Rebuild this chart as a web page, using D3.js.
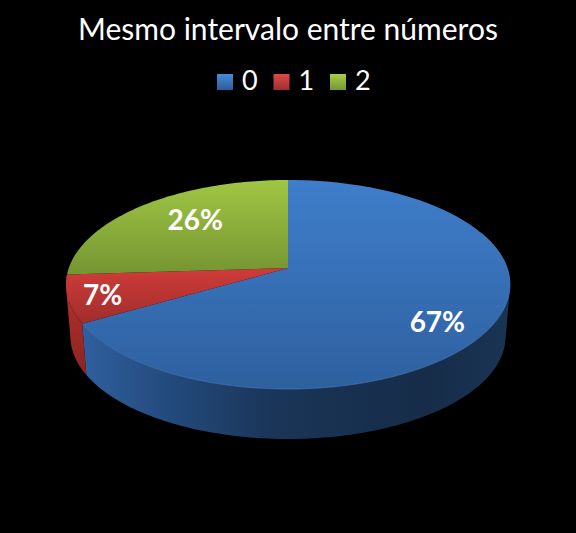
<!DOCTYPE html>
<html><head><meta charset="utf-8">
<script src="https://cdn.jsdelivr.net/npm/d3@7"></script>
<style>html,body{margin:0;padding:0;background:#000;overflow:hidden}svg{display:block}text{font-family:Lato,"Open Sans",sans-serif;fill:#fff}</style>
</head><body><div id="c"></div>
<script>
const title = "Mesmo intervalo entre números";
const categories = ["0", "1", "2"];
const values = [66.6, 7.4, 26.0];
const labels = ["67%", "7%", "26%"];

const W = 576, H = 533;
const svg = d3.select("#c").append("svg").attr("width", W).attr("height", H);
svg.append("rect").attr("width", W).attr("height", H).attr("fill", "#000");
const defs = svg.append("defs");

function grad(id, y1, y2, c1, c2) {
  const g = defs.append("linearGradient").attr("id", id).attr("gradientUnits", "userSpaceOnUse")
    .attr("x1", 0).attr("x2", 0).attr("y1", y1).attr("y2", y2);
  g.append("stop").attr("offset", 0).attr("stop-color", c1);
  g.append("stop").attr("offset", 1).attr("stop-color", c2);
}
grad("f0", 180, 389, "#3f7ecb", "#2e609f");
grad("f1", 272, 326, "#cc3b39", "#9e2c2a");
grad("f2", 180, 272, "#a0c644", "#769632");
[["l0","#4a8ad8","#2c5c9c"],["l1","#dc4a48","#a02e2c"],["l2","#a8cc4c","#76962f"]].forEach(d => {
  const g = defs.append("linearGradient").attr("id", d[0]).attr("x1",0).attr("x2",0).attr("y1",0).attr("y2",1);
  g.append("stop").attr("offset",0).attr("stop-color",d[1]);
  g.append("stop").attr("offset",1).attr("stop-color",d[2]);
});
const sb = defs.append("linearGradient").attr("id","s0").attr("gradientUnits","userSpaceOnUse")
  .attr("x1",84).attr("x2",510).attr("y1",0).attr("y2",0);
[[0,"#2f5f9e"],[0.2,"#234a7c"],[0.45,"#1a3557"],[0.8,"#162c49"],[1,"#1a3454"]].forEach(s =>
  sb.append("stop").attr("offset",s[0]).attr("stop-color",s[1]));
grad("s1", 285, 370, "#b5302e", "#8c2523");

// perspective projection of the pie disc
const k = 0.158;
function project(theta, r, level) {
  const s = level ? 0.98 : 1, cy = level ? 320.4 : 268;
  const u = Math.sin(theta) * r, v = Math.cos(theta) * r, w = 1 + k * v;
  return [288 + 219.2 * s * u / w, cy - 101.9 * s * v / w];
}
const pie = d3.pie().sort(null).value(d => d)(values);
const step = 0.02;
const sweep = (a, b) => d3.range(a, b, step).concat([b]);
const line = d3.line();

// sides (back to front, hidden parts lie under the top face)
[[0, "url(#s0)"], [1, "url(#s1)"]].forEach(([i, fill]) => {
  const ts = sweep(pie[i].startAngle, pie[i].endAngle);
  const quads = d3.pairs(ts).map(([a, b]) => line(d3.polygonHull([
    project(a, 1, 0), project(b, 1, 0), project(b, 1, 1), project(a, 1, 1)
  ])) + "Z").join("");
  svg.append("path").attr("d", quads).attr("fill", fill).attr("fill-rule", "nonzero");
});

// top faces
pie.forEach((p, i) => {
  const pts = [project(0, 0, 0)].concat(sweep(p.startAngle, p.endAngle).map(t => project(t, 1, 0)));
  svg.append("path").attr("d", line(pts) + "Z").attr("fill", `url(#f${i})`);
});
// lit front rim
svg.append("path")
  .attr("d", line(sweep(pie[0].startAngle + 1.2, pie[0].endAngle).map(t => project(t, 1, 0))))
  .attr("fill", "none").attr("stroke", "#4a84c8").attr("stroke-opacity", 0.6).attr("stroke-width", 1);

// slice labels
const labelR = [0.74, 0.85, 0.62], labelDy = [24, 11, 3];
pie.forEach((p, i) => {
  const [x, y] = project((p.startAngle + p.endAngle) / 2, labelR[i], 0);
  svg.append("text").attr("x", x).attr("y", y + labelDy[i]).attr("text-anchor", "middle")
    .attr("font-size", 28).attr("font-weight", 700).text(labels[i]);
});

// title
svg.append("text").attr("x", 288).attr("y", 40).attr("text-anchor", "middle")
  .attr("font-size", 30).text(title);

// legend
const legendX = d3.scalePoint().domain(categories).range([217, 330]);
categories.forEach((c, i) => {
  const x = legendX(c);
  svg.append("rect").attr("x", x).attr("y", 74).attr("width", 16).attr("height", 16)
    .attr("fill", `url(#l${i})`);
  svg.append("text").attr("x", x + 25).attr("y", 90).attr("font-size", 27).text(c);
});
</script></body></html>
